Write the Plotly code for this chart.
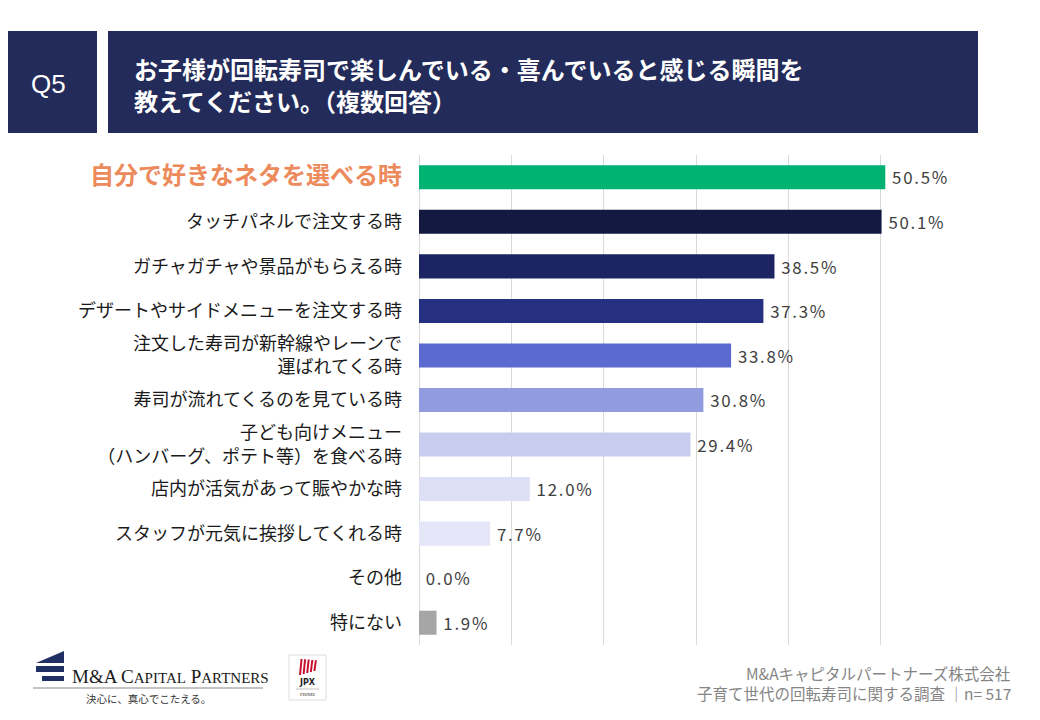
import plotly.graph_objects as go

# data
categories = [
    "自分で好きなネタを選べる時",
    "タッチパネルで注文する時",
    "ガチャガチャや景品がもらえる時",
    "デザートやサイドメニューを注文する時",
    "注文した寿司が新幹線やレーンで<br>運ばれてくる時",
    "寿司が流れてくるのを見ている時",
    "子ども向けメニュー<br>（ハンバーグ、ポテト等）を食べる時",
    "店内が活気があって賑やかな時",
    "スタッフが元気に挨拶してくれる時",
    "その他",
    "特にない",
]
values = [50.5, 50.1, 38.5, 37.3, 33.8, 30.8, 29.4, 12.0, 7.7, 0.0, 1.9]
bar_colors = ["#00b373", "#131940", "#1c2463", "#253080", "#5b6acf", "#909be0",
              "#c8cdf0", "#dde0f4", "#e4e6f8", "#e4e6f8", "#a6a6a6"]
x_ticks = [0, 10, 20, 30, 40, 50, 60]

question_no = "Q5"
title_lines = ["お子様が回転寿司で楽しんでいる・喜んでいると感じる瞬間を",
               "教えてください。（複数回答）"]
footer_lines = ["M&Aキャピタルパートナーズ株式会社",
                "子育て世代の回転寿司に関する調査 ｜n= 517"]

FONT = "Noto Sans CJK JP"
NAVY = "#222b5a"

# page has an 8px body margin, so the figure is drawn 8px smaller
# and everything is placed in screen pixels through px()/py()
PL, PR, PT, PB = 419, 973, 155, 645


def px(xp):
    return (xp - PL) / (PR - PL)


def py(yp):
    return (PB - yp) / (PB - PT)


# tick labels: highlight the top answer
tick_text = []
for i, c in enumerate(categories):
    if i == 0:
        tick_text.append(f"<span style='color:#ec8a5b;font-size:24px'><b>{c}</b></span>")
    else:
        tick_text.append(c)

fig = go.Figure()
fig.add_trace(go.Bar(
    x=values, y=categories, orientation="h",
    marker=dict(color=bar_colors, line=dict(width=0)),
    width=0.54,
    text=[f" <span style='letter-spacing:1.8px'>{v:.1f}%</span>" for v in values],
    textposition="outside",
    textfont=dict(family=FONT, size=17.5, color="#404040"),
    cliponaxis=False,
    hoverinfo="skip",
))

fig.update_xaxes(
    range=[0, 60], tickvals=x_ticks, showticklabels=False,
    showgrid=True, gridcolor="#d9d9d9", gridwidth=1,
    zeroline=True, zerolinecolor="#d9d9d9", zerolinewidth=1,
    showline=False, fixedrange=True,
)
fig.update_yaxes(
    autorange="reversed",
    tickvals=categories, ticktext=tick_text,
    tickfont=dict(family=FONT, size=18, color="#1a1a1a"),
    ticklabelstandoff=16,
    showgrid=False, showline=False, zeroline=False,
)

shapes = [
    # header boxes
    dict(type="rect", xref="paper", yref="paper", x0=px(-10), x1=px(97),
         y0=py(133), y1=py(31), fillcolor=NAVY, line=dict(width=0), layer="below"),
    dict(type="rect", xref="paper", yref="paper", x0=px(108), x1=px(978),
         y0=py(133), y1=py(31), fillcolor=NAVY, line=dict(width=0), layer="below"),
    # M&A logo mark
    dict(type="path", xref="paper", yref="paper",
         path=f"M {px(36)} {py(663)} L {px(64)} {py(651)} L {px(64)} {py(663)} Z",
         fillcolor="#1f2f63", line=dict(width=0)),
    dict(type="rect", xref="paper", yref="paper", x0=px(36), x1=px(64), y0=py(672), y1=py(666),
         fillcolor="#1f2f63", line=dict(width=0)),
    dict(type="rect", xref="paper", yref="paper", x0=px(42), x1=px(64), y0=py(681), y1=py(676),
         fillcolor="#1f2f63", line=dict(width=0)),
    dict(type="line", xref="paper", yref="paper", x0=px(33), x1=px(263), y0=py(688), y1=py(688),
         line=dict(color="#888888", width=1)),
    # JPX box
    dict(type="rect", xref="paper", yref="paper", x0=px(289), x1=px(326), y0=py(700), y1=py(655),
         fillcolor="white", line=dict(color="#dddddd", width=1)),
    dict(type="line", xref="paper", yref="paper", x0=px(296), x1=px(319), y0=py(689), y1=py(689),
         line=dict(color="#999999", width=0.6)),
]
for k in range(5):
    shapes.append(dict(type="path", xref="paper", yref="paper",
                       path=(f"M {px(299 + k * 3.6)} {py(675 - k)} L {px(301 + k * 3.6)} {py(675 - k)} "
                             f"L {px(302.5 + k * 3.6)} {py(659 + k * 0.3)} L {px(300.5 + k * 3.6)} {py(659 + k * 0.3)} Z"),
                       fillcolor="#c8102e", line=dict(width=0)))

annotations = [
    dict(text=question_no, xref="paper", yref="paper", x=px(48), y=py(84),
         showarrow=False, font=dict(family="Liberation Sans", size=26, color="white"),
         xanchor="center", yanchor="middle"),
    dict(text="<b>" + title_lines[0] + "</b>", xref="paper", yref="paper",
         x=px(132), y=py(69), showarrow=False, align="left",
         font=dict(family=FONT, size=24, color="white"),
         xanchor="left", yanchor="middle"),
    dict(text="<b>" + title_lines[1] + "</b>", xref="paper", yref="paper",
         x=px(132), y=py(100), showarrow=False, align="left",
         font=dict(family=FONT, size=24, color="white"),
         xanchor="left", yanchor="middle"),
    dict(text=footer_lines[0], xref="paper", yref="paper",
         x=px(1013), y=py(673), showarrow=False, align="right",
         font=dict(family=FONT, size=15.5, color="#858585"),
         xanchor="right", yanchor="middle"),
    dict(text=footer_lines[1], xref="paper", yref="paper",
         x=px(1013), y=py(693), showarrow=False, align="right",
         font=dict(family=FONT, size=15.5, color="#858585"),
         xanchor="right", yanchor="middle"),
    dict(text="M&amp;A C<span style='font-size:15px'>APITAL</span> P<span style='font-size:15px'>ARTNERS</span>",
         xref="paper", yref="paper", x=px(70), y=py(676), showarrow=False,
         font=dict(family="Liberation Serif", size=19, color="#1a1a1a"),
         xanchor="left", yanchor="middle"),
    dict(text="決心に、真心でこたえる。", xref="paper", yref="paper", x=px(148), y=py(698),
         showarrow=False, font=dict(family="Noto Sans CJK JP", size=10.5, color="#333333"),
         xanchor="center", yanchor="middle"),
    dict(text="<b>JPX</b>", xref="paper", yref="paper", x=px(307.5), y=py(682),
         showarrow=False, font=dict(family="DejaVu Sans", size=8, color="#222222"),
         xanchor="center", yanchor="middle"),
    dict(text="PRIME", xref="paper", yref="paper", x=px(307.5), y=py(694),
         showarrow=False, font=dict(family="Liberation Serif", size=5, color="#333333"),
         xanchor="center", yanchor="middle"),
]

fig.update_layout(
    width=1032, height=712,
    margin=dict(l=PL - 8, r=1040 - PR, t=PT - 8, b=720 - PB),
    paper_bgcolor="white", plot_bgcolor="white",
    showlegend=False,
    bargap=0.46,
    shapes=shapes,
    annotations=annotations,
    font=dict(family=FONT),
)

fig.write_html("out.html")
